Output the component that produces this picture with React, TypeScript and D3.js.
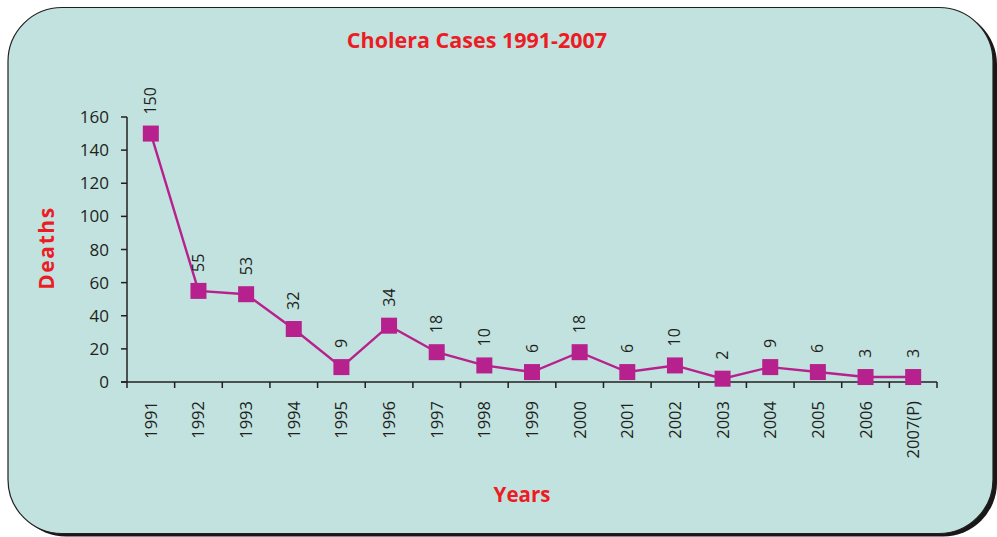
import React from "react";
import * as d3 from "d3";

const years = ["1991","1992","1993","1994","1995","1996","1997","1998","1999","2000","2001","2002","2003","2004","2005","2006","2007(P)"];
const deaths = [150, 55, 53, 32, 9, 34, 18, 10, 6, 18, 6, 10, 2, 9, 6, 3, 3];
const yTicks = [0, 20, 40, 60, 80, 100, 120, 140, 160];

const W = 997, H = 537;
const FONT = "'Open Sans', 'Noto Sans', sans-serif";
const RED = "#ed1c24";
const MAG = "#b7218d";
const INK = "#231f20";

export default function App() {
  const x = d3.scaleBand<string>().domain(years).range([127, 937]).padding(0);
  const y = d3.scaleLinear().domain([0, 160]).range([382, 117]);
  const cx = (yr: string) => (x(yr) as number) + x.bandwidth() / 2;
  const line = d3.line<number>().x((_, i) => cx(years[i])).y((d) => y(d));
  const bounds = [...years.map((yr) => x(yr) as number), 937];

  return (
    <svg width={W} height={H} style={{ position: "absolute", left: 0, top: 0 }} fontFamily={FONT}>
      <rect x={0} y={0} width={W} height={H} fill="#ffffff" />
      <rect x={12} y={10.5} width={985} height={526} rx={54} ry={54} fill="#1a1718" />
      <rect x={8} y={7.5} width={985} height={526} rx={54} ry={54} fill="#c1e2df" stroke={INK} strokeWidth={1.2} />

      <text x={477} y={48} textAnchor="middle" fill={RED} fontWeight={700} fontSize={21.5}>Cholera Cases 1991-2007</text>
      <text transform="translate(54,248) rotate(-90)" textAnchor="middle" fill={RED} fontWeight={700} fontSize={21} letterSpacing={1.6}>Deaths</text>
      <text x={522} y={502} textAnchor="middle" fill={RED} fontWeight={700} fontSize={20.5}>Years</text>

      {/* y axis */}
      <line x1={127} x2={127} y1={y(160)} y2={y(0)} stroke={INK} strokeWidth={1.5} />
      {yTicks.map((t) => (
        <g key={t}>
          <line x1={121} x2={127} y1={y(t)} y2={y(t)} stroke={INK} strokeWidth={1.5} />
          <text x={109} y={y(t)} dy="0.36em" textAnchor="end" fontSize={17} fill={INK}>{t}</text>
        </g>
      ))}

      {/* x axis */}
      <line x1={121} x2={937} y1={y(0)} y2={y(0)} stroke={INK} strokeWidth={1.5} />
      {bounds.map((b, i) => (
        <line key={i} x1={b} x2={b} y1={y(0)} y2={y(0) + 6} stroke={INK} strokeWidth={1.5} />
      ))}
      {years.map((yr) => (
        <text key={yr} transform={`translate(${cx(yr) + 6},401) rotate(-90)`} textAnchor="end" fontSize={16.5} fill={INK}>{yr}</text>
      ))}

      <path d={line(deaths) || ""} fill="none" stroke={MAG} strokeWidth={2.4} />
      {deaths.map((d, i) => (
        <rect key={i} x={cx(years[i]) - 8} y={y(d) - 8} width={16} height={16} fill={MAG} />
      ))}
      {deaths.map((d, i) => (
        <text key={"l" + i} transform={`translate(${cx(years[i]) + 5.5},${y(d) - 19}) rotate(-90)`} textAnchor="start" fontSize={16} fill={INK}>{d}</text>
      ))}
    </svg>
  );
}
